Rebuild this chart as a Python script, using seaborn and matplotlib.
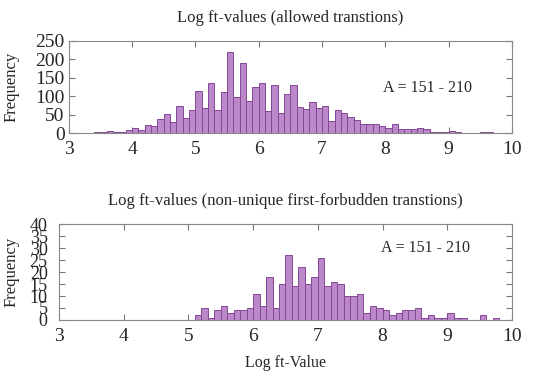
import numpy as np
import pandas as pd
import matplotlib
matplotlib.use("Agg")
import matplotlib.pyplot as plt
import seaborn as sns

# Histogram counts, bin width 0.1
bin_width = 0.1

# allowed transitions: bins starting at 3.2 ... 9.8
allowed_start = 3.2
allowed_counts = [1, 0, 2, 2, 7, 3, 3, 9, 14, 8,
                  21, 18, 37, 53, 31, 74, 42, 62, 115, 69,
                  136, 62, 111, 219, 98, 190, 88, 126, 135, 59,
                  130, 54, 107, 130, 70, 66, 84, 68, 73, 32,
                  64, 54, 43, 36, 26, 25, 26, 19, 15, 24,
                  12, 11, 10, 14, 11, 3, 3, 4, 5, 2,
                  1, 1, 1, 2, 2, 0, 1]

# non-unique first-forbidden transitions: bins starting at 5.1 ... 9.7
forbidden_start = 5.1
forbidden_counts = [2, 5, 1, 4, 6, 3, 4, 4, 5, 11,
                    6, 18, 5, 15, 27, 14, 22, 15, 18, 26,
                    14, 16, 15, 10, 10, 11, 3, 6, 5, 4,
                    2, 3, 4, 4, 5, 1, 2, 1, 1, 3,
                    1, 1, 0, 0, 2, 0, 1]

titles = ["Log ft-values (allowed transtions)",
          "Log ft-values (non-unique first-forbudden transtions)"]
note = "A = 151 - 210"


def make_frame(start, counts):
    left = start + bin_width * np.arange(len(counts))
    return pd.DataFrame({"value": np.round(left + bin_width / 2, 3),
                         "count": counts})


allowed = make_frame(allowed_start, allowed_counts)
forbidden = make_frame(forbidden_start, forbidden_counts)

sns.set_style("ticks")
plt.rcParams["font.family"] = ["Liberation Serif", "DejaVu Serif"]
plt.rcParams["font.size"] = 11

fill = "#b882c8"
edge = "#844896"

fig = plt.figure(figsize=(5.5, 3.76), dpi=100)
ax1 = fig.add_axes([0.125, 0.646, 0.806, 0.245])
ax2 = fig.add_axes([0.107, 0.149, 0.824, 0.255])

edges_all = [round(3.0 + bin_width * i, 2) for i in range(71)]

for ax, df in [(ax1, allowed), (ax2, forbidden)]:
    sns.histplot(data=df, x="value", weights="count", bins=edges_all,
                 color=fill, edgecolor=edge, linewidth=0.7, alpha=0.95, ax=ax)
    ax.set_xlim(3, 10)
    ax.set_xticks(range(3, 11))
    ax.tick_params(direction="in", top=True, right=True, length=4,
                   width=0.8, color="#777777")
    ax.tick_params(axis="x", labelsize=14, pad=6)
    for s in ax.spines.values():
        s.set_color("#888888")
        s.set_linewidth(0.8)
    ax.set_xlabel("")
    ax.set_ylabel("Frequency", fontsize=12)

ax1.set_ylim(0, 250)
ax1.set_yticks(range(0, 251, 50))
ax1.tick_params(axis="y", labelsize=14, pad=3)
ax1.set_title(titles[0], fontsize=12, pad=14)
ax1.yaxis.set_label_coords(-0.11, 0.5)
ax1.text(0.81, 0.49, note, transform=ax1.transAxes, ha="center",
         va="center", fontsize=11.5)

ax2.set_ylim(0, 40)
ax2.set_yticks(range(0, 41, 5))
ax2.tick_params(axis="y", labelsize=13, pad=8)
ax2.set_title(titles[1], fontsize=12, pad=14)
ax2.yaxis.set_label_coords(-0.086, 0.5)
ax2.set_xlabel("Log ft-Value", fontsize=11.5, labelpad=7)
ax2.text(0.808, 0.75, note, transform=ax2.transAxes, ha="center",
         va="center", fontsize=11.5)

fig.savefig("out.png", dpi=100)
